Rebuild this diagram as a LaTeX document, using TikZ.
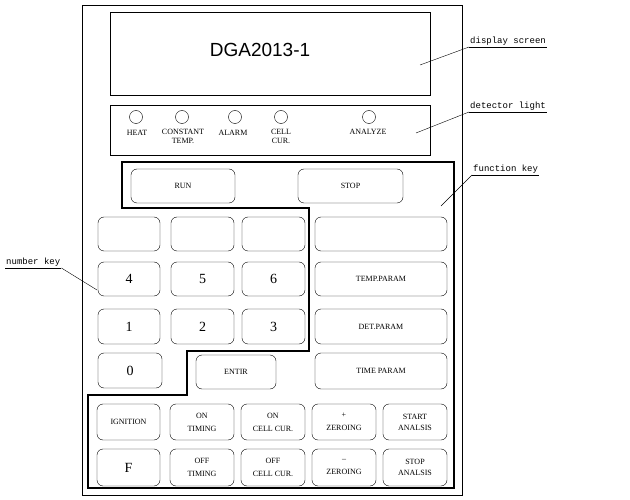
\documentclass[tikz,border=0pt]{standalone}
\usepackage{fontspec}
\setmainfont{Liberation Serif}
\newfontfamily\callf{Liberation Mono}
\newfontfamily\dgaf{Liberation Sans}
\begin{document}
\begin{tikzpicture}[x=1pt,y=-1pt,
  keybox/.style={draw,rounded corners=6pt,thin},
  kt/.style={font=\fontsize{8}{9}\selectfont,align=center,inner sep=0pt},
  nt/.style={font=\fontsize{14}{15}\selectfont,inner sep=0pt},
  callout/.style={font=\callf\fontsize{9}{10}\selectfont,inner sep=1pt,anchor=south west},
  light/.style={draw,circle,minimum size=13pt,inner sep=0pt,thin}]
\useasboundingbox (0,0) rectangle (630,500);
\draw[thin] (82,5) rectangle (462,495);
% display
\draw (110,12) rectangle (430,95);
\node[font=\dgaf\fontsize{19}{21}\selectfont] (dga) at (260,50) {DGA2013-1};
% detector
\draw (110,105) rectangle (430,155);
\foreach \x/\n in {136/l1,182/l2,235/l3,281/l4,369/l5}{\node[light] (\n) at (\x,117) {};}
\node[kt] at (137,133) {HEAT};
\node[kt,anchor=north] at (183,129) {CONSTANT\\TEMP.};
\node[kt] at (233,133) {ALARM};
\node[kt,anchor=north] at (281,129) {CELL\\CUR.};
\node[kt] at (368,132) {ANALYZE};
% function key outline
\draw[line width=1.4pt] (122,162) -- (454,162) -- (454,488) -- (88,488) -- (88,395) -- (187,395) -- (187,351) -- (309,351) -- (309,208) -- (122,208) -- cycle;
% keys
\newcommand{\mkey}[6]{\draw[keybox] (#1,#2) rectangle (#3,#4); \node[#6] at ({(#1+#3)/2},{(#2+#4)/2}) {#5};}
\mkey{131}{169}{235}{203}{RUN}{kt}
\mkey{298}{169}{403}{203}{STOP}{kt}
\mkey{98}{217}{160}{251}{}{kt}
\mkey{171}{217}{234}{251}{}{kt}
\mkey{242}{217}{305}{251}{}{kt}
\mkey{315}{217}{447}{251}{}{kt}
\mkey{98}{262}{160}{296}{4}{nt}
\mkey{171}{262}{234}{296}{5}{nt}
\mkey{242}{262}{305}{296}{6}{nt}
\mkey{315}{262}{447}{296}{TEMP.PARAM}{kt}
\mkey{98}{309}{160}{344}{1}{nt}
\mkey{171}{309}{234}{344}{2}{nt}
\mkey{242}{309}{305}{344}{3}{nt}
\mkey{315}{309}{447}{344}{DET.PARAM}{kt}
\mkey{98}{353}{162}{388}{0}{nt}
\mkey{196}{355}{276}{389}{ENTIR}{kt}
\mkey{315}{353}{447}{389}{TIME PARAM}{kt}
\mkey{97}{404}{160}{440}{IGNITION}{kt}
\mkey{170}{404}{234}{440}{ON\\[4pt]TIMING}{kt}
\mkey{241}{404}{305}{440}{ON\\[4pt]CELL CUR.}{kt}
\mkey{312}{404}{376}{440}{+\\[4pt]ZEROING}{kt}
\mkey{383}{404}{447}{440}{START\\[2pt]ANALSIS}{kt}
\mkey{97}{449}{160}{486}{F}{nt}
\mkey{170}{449}{234}{486}{OFF\\[4pt]TIMING}{kt}
\mkey{241}{449}{305}{486}{OFF\\[4pt]CELL CUR.}{kt}
\mkey{312}{449}{376}{486}{--\\[4pt]ZEROING}{kt}
\mkey{383}{449}{447}{486}{STOP\\[2pt]ANALSIS}{kt}
% callouts
\node[callout] (c1) at (469,47) {display screen};
\draw[thin] (c1.south west) -- (c1.south east);
\draw[thin] (c1.south west) -- (420,65);
\node[callout] (c2) at (469,112) {detector light};
\draw[thin] (c2.south west) -- (c2.south east);
\draw[thin] (c2.south west) -- (416,133);
\node[callout] (c3) at (472,175) {function key};
\draw[thin] (c3.south west) -- (c3.south east);
\draw[thin] (c3.south west) -- (441,206);
\node[callout] (c4) at (5,268) {number key};
\draw[thin] (c4.south west) -- (c4.south east);
\draw[thin] (c4.south east) -- (97,290);
\end{tikzpicture}
\end{document}
